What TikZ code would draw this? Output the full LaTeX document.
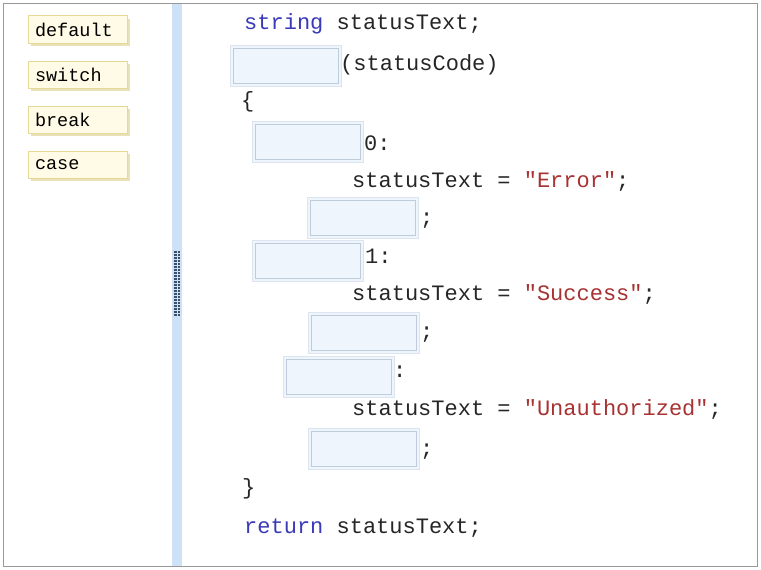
\documentclass[tikz,border=0pt]{standalone}
\usepackage{fontspec}
\usetikzlibrary{shadows}
\newfontfamily\codefont{Liberation Mono}
\definecolor{kwblue}{HTML}{3A3AB8}
\definecolor{strred}{HTML}{A83232}
\definecolor{slotout}{HTML}{DCE5EF}
\definecolor{slotin}{HTML}{BFCCDA}
\definecolor{slotfill}{HTML}{EFF5FC}
\definecolor{wordfill}{HTML}{FFFBE6}
\definecolor{wordedge}{HTML}{E6D896}
\definecolor{wordshadow}{HTML}{E9E1B8}
\definecolor{barblue}{HTML}{CDE2F6}
\definecolor{grip}{HTML}{3C4E6A}
\def \cw {111pt}
\def \ch {41pt}

\begin{document}
\begin{tikzpicture}[x=1pt,y=-1pt,
    code/.style={anchor=base west,inner sep=0pt,text=black!85,font=\codefont\fontsize{22}{22}\selectfont},
    slot/.style={draw=slotout,fill=slotfill,minimum width=\cw,minimum height=\ch,inner sep=0pt,
      path picture={\draw[slotin] ([shift={(3pt,3pt)}]path picture bounding box.south west) rectangle ([shift={(-3pt,-3pt)}]path picture bounding box.north east);}},
    word/.style={draw=wordedge,fill=wordfill,minimum width=99pt,minimum height=27pt,text width=85pt,inner sep=7pt,align=left,
      font=\codefont\fontsize{18.5}{18.5}\selectfont,
      drop shadow={shadow xshift=3pt,shadow yshift=-3pt,fill=wordshadow,opacity=1}}]
      \useasboundingbox (0,0) rectangle (761,570);
      %frame and splitter
      \draw[black!40,fill=white] (3,3) rectangle (757,566);
      \fill[barblue] (172,3.5) rectangle (182,565.5);
      \foreach \k in {0,...,21} {\fill[grip] (174.3,251+3*\k) rectangle +(2.2,2.2); \fill[grip] (177.6,251+3*\k) rectangle +(2.2,2.2);}
      %words
      \node[word] (default) at (77.5,29.5) {default};
      \node[word] (switch) at (77.5,74.5) {switch};
      \node[word] (break) at (77.5,119.5) {break};
      \node[word] (case) at (77.5,164.5) {case};
      %slots
      \node[slot] (s1) at (286,66) {};
      \node[slot] (s2) at (308,142) {};
      \node[slot] (s3) at (363,217.5) {};
      \node[slot] (s4) at (308,261) {};
      \node[slot] (s5) at (364,332.5) {};
      \node[slot] (s6) at (338.5,377) {};
      \node[slot] (s7) at (363.5,449) {};
      %code
      \node[code] (l1) at (244,30) {\textcolor{kwblue}{string} statusText;};
      \node[code] (l2) at (340,70) {(statusCode)};
      \node[code] (l3) at (241,107) {\{};
      \node[code] (l4) at (364,150) {0:};
      \node[code] (l5) at (352,187) {statusText = \textcolor{strred}{"Error"};};
      \node[code] (l6) at (420,224) {;};
      \node[code] (l7) at (365,263) {1:};
      \node[code] (l8) at (352,300) {statusText = \textcolor{strred}{"Success"};};
      \node[code] (l9) at (420,338) {;};
      \node[code] (l10) at (393,377) {:};
      \node[code] (l11) at (352,415) {statusText = \textcolor{strred}{"Unauthorized"};};
      \node[code] (l12) at (420,455) {;};
      \node[code] (l13) at (242,494) {\}};
      \node[code] (l14) at (244,533) {\textcolor{kwblue}{return} statusText;};
    \end{tikzpicture}
\end{document}
